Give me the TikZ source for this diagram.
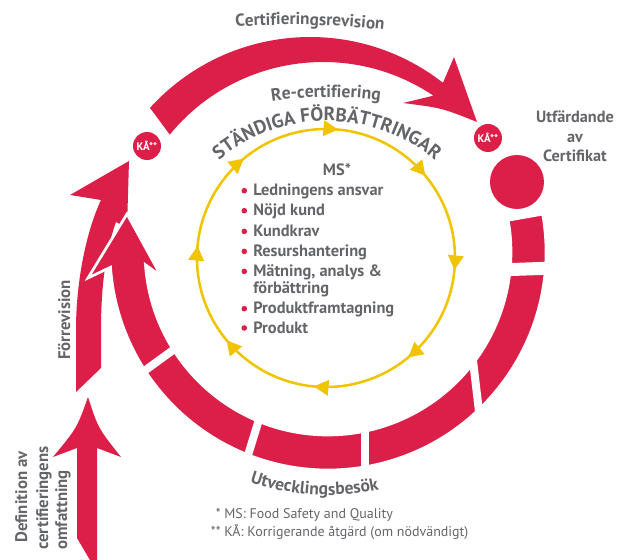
\documentclass[tikz,border=0pt]{standalone}
\usepackage{fontspec}
\setmainfont{PT Sans}
\usetikzlibrary{calc,decorations.text,decorations.markings,arrows.meta}
\definecolor{cred}{RGB}{219,31,72}
\definecolor{cgray}{RGB}{100,101,104}
\definecolor{cyel}{RGB}{240,196,0}
\newcommand\fsz[1]{\fontsize{#1}{#1}\selectfont}
\begin{document}
\begin{tikzpicture}[x=0.75pt,y=-0.75pt,
  gtxt/.style={text=cgray, inner sep=0, font=\fsz{12.3}\bfseries},
  item/.style={gtxt, anchor=base west},
  bul/.style={fill=cred},
  sidetxt/.style={text=cgray, inner sep=0, font=\fsz{12.6}\bfseries, rotate=90},
  kacirc/.style={circle, fill=cred, minimum size=21pt, inner sep=0, text=white, font=\fsz{8.2}\bfseries},
  foot/.style={text=cgray, inner sep=0, font=\fsz{10.5}},
  gapline/.style={white, line width=6pt}]
\useasboundingbox (0,0) rectangle (619,560);
\clip (0,0) rectangle (619,560);
\coordinate (rc) at (328,252);
\coordinate (oc) at (310,253);
\coordinate (ic) at (323,260);
\coordinate (yc) at (326,258);

% yellow cycle
\draw[cyel, line width=1.9pt, postaction={decorate},
  decoration={markings, mark=between positions 0.015 and 1 step 0.125 with {\arrow[cyel]{Triangle[length=11pt,width=11.5pt]}}}]
  (yc) ++(-90:129) arc[start angle=-90, end angle=270, radius=129];

% Definition arrow
\fill[cred] (77,538) -- (77,448) -- (53,457) .. controls (77,428) .. (88,397)
  .. controls (98,428) .. (121,457) -- (97,448) -- (97,572) -- cycle;

% Foerrevision arrow
\fill[cred] (76,392) -- (76,330) .. controls (76,282) and (86,232) .. (101,200)
  -- (70,195) -- (129,161) -- (127,228) -- (116,222)
  .. controls (106,250) and (101,285) .. (101,330) -- (101,368) -- cycle;

% big ring with arrowhead
\fill[cred, draw=white, line width=2pt]
  ($(rc)+(-10:218)$) arc[start angle=-10, end angle=176, radius=218]
  -- (88,278) -- (127,214) -- (161,276)
  -- ($(rc)+(176:183)$) arc[start angle=176, end angle=-10, radius=183] -- cycle;
\draw[gapline, line width=9.75pt] (498,270) -- (554,268);
\draw[gapline] (472,352) -- (480,420);
\draw[gapline] (365,418) -- (365,478);
\draw[gapline] (261,413) -- (245,465);
\draw[gapline] (180,345) -- (136,377);
\fill[cred] (517,182) circle[radius=27];

% top arc
\fill[cred] ($(oc)+(-137.8:216)$) arc[start angle=-137.8, end angle=-52, radius=216]
  -- (454,57) -- (477,122) .. controls (442,108) .. (403,103)
  -- ($(ic)+(-56.1:198)$) arc[start angle=-56.1, end angle=-140.7, radius=198] -- cycle;

% KA circles
\node[kacirc] (ka1) at (147,146) {KÅ**};
\node[kacirc] (ka2) at (488,138) {KÅ**};

% curved labels
\path[decorate, decoration={text along path, text align=center,
  text={|\fsz{12.9}\bfseries\color{cgray}|Certifieringsrevision}}]
  ($(291.5,864.8)+(-100:840)$) arc[start angle=-100, end angle=-77.5, radius=840];
\path[decorate, decoration={text along path, text align=center,
  text={|\fsz{13.2}\bfseries\color{cgray}|Re-certifiering}}]
  ($(330,487)+(-106:390)$) arc[start angle=-106, end angle=-75.2, radius=390];
\path[decorate, decoration={text along path, text align=center,
  text={|\fsz{14.4}\bfseries\color{cgray}|STÄNDIGA FÖRBÄTTRINGAR}}]
  ($(327,290)+(-135:169)$) arc[start angle=-135, end angle=-45, radius=169];
\path[decorate, decoration={text along path, text align=center,
  text={|\fsz{13.2}\bfseries\color{cgray}|Utvecklingsbesök}}]
  ($(rc)+(113.3:243)$) arc[start angle=113.3, end angle=73.3, radius=243];

% centre list
\node[gtxt, anchor=base] (ms) at (337,176) {MS*};
\node[item] (i1) at (253,196) {Ledningens ansvar};
\node[item] (i2) at (253,216) {Nöjd kund};
\node[item] (i3) at (253,236.7) {Kundkrav};
\node[item] (i4) at (253,256.7) {Resurshantering};
\node[item] (i5) at (253,276.7) {Mätning, analys \&};
\node[item] (i5b) at (253,294) {förbättring};
\node[item] (i6) at (253,314) {Produktframtagning};
\node[item] (i7) at (253,333.3) {Produkt};
\foreach \y in {196,216,236.7,256.7,276.7,314,333.3}
  \fill[bul] (244.3,\y-5.3) circle[radius=2.8];

% right label
\node[gtxt, anchor=base, font=\fsz{12.2}\bfseries] (u1) at (575,123) {Utfärdande};
\node[gtxt, anchor=base, font=\fsz{12.2}\bfseries] (u2) at (575,143) {av};
\node[gtxt, anchor=base, font=\fsz{12.2}\bfseries] (u3) at (575,162) {Certifikat};

% side labels
\node[sidetxt, anchor=base] (fr) at (70,320) {Förrevision};
\node[sidetxt, anchor=base west] (d1) at (27,543) {Definition av};
\node[sidetxt, anchor=base west] (d2) at (48,550) {certifieringens};
\node[sidetxt, anchor=base west] (d3) at (67,550) {omfattning};

% footnotes
\node[foot, anchor=base east] (f1a) at (221,518) {*};
\node[foot, anchor=base west] (f1) at (224,518) {MS: Food Safety and Quality};
\node[foot, anchor=base east] (f2a) at (221,537) {**};
\node[foot, anchor=base west] (f2) at (224,537) {KÅ: Korrigerande åtgärd (om nödvändigt)};
\end{tikzpicture}
\end{document}
